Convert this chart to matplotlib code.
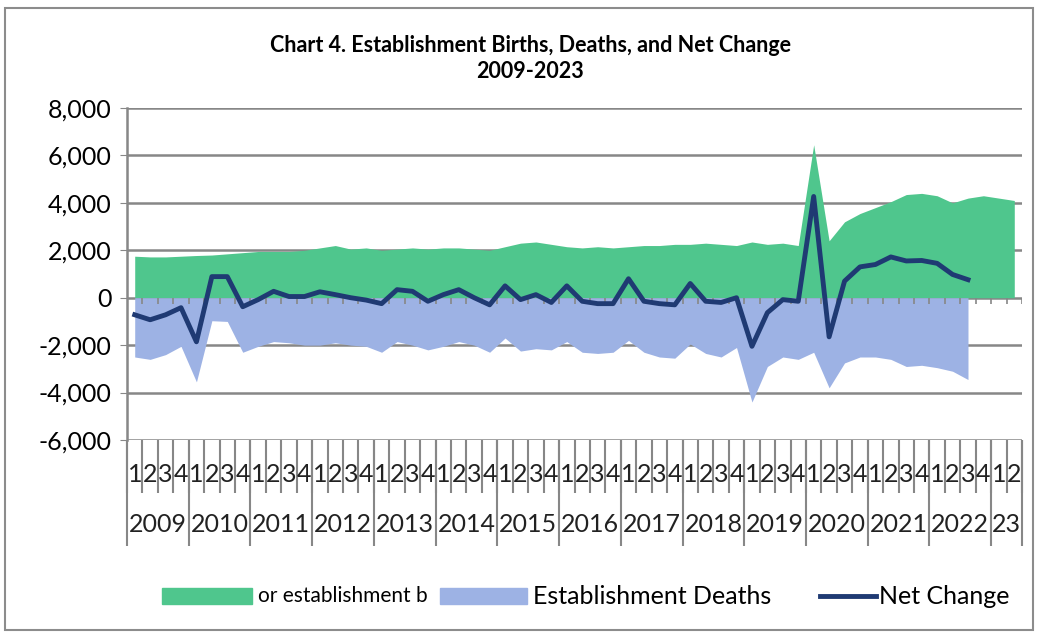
import numpy as np
import matplotlib.pyplot as plt
from matplotlib.patches import Rectangle
from matplotlib.lines import Line2D

plt.rcParams['font.family'] = ['Lato', 'DejaVu Sans']

# quarterly values, 2009 Q1 .. 2023 Q2
years = ['2009', '2010', '2011', '2012', '2013', '2014', '2015', '2016',
         '2017', '2018', '2019', '2020', '2021', '2022', '23']
quarters = ['1', '2', '3', '4'] * 14 + ['1', '2']

births = [1750, 1720, 1720, 1750, 1780, 1800, 1850, 1900,
          1950, 1950, 1950, 2000, 2100, 2200, 2050, 2100,
          2000, 2050, 2100, 2050, 2100, 2100, 2050, 2000,
          2150, 2300, 2350, 2250, 2150, 2100, 2150, 2100,
          2150, 2200, 2200, 2250, 2250, 2300, 2250, 2200,
          2350, 2250, 2300, 2200, 6450, 2400, 3200, 3550,
          3800, 4050, 4350, 4400, 4300, 4000, 4200, 4300,
          4200, 4100]

deaths = [-2500, -2600, -2400, -2050, -3550, -970, -1000, -2300,
          -2050, -1850, -1900, -2000, -2000, -1900, -2000, -2050,
          -2300, -1850, -2000, -2200, -2050, -1850, -2000, -2300,
          -1700, -2250, -2150, -2200, -1850, -2300, -2350, -2300,
          -1800, -2300, -2500, -2550, -1950, -2350, -2500, -2100,
          -4400, -2900, -2500, -2600, -2300, -3800, -2750, -2500,
          -2500, -2600, -2900, -2850, -2950, -3100, -3450]

net = [-720, -930, -720, -420, -1860, 890, 890, -380,
       -80, 270, 50, 50, 250, 130, 0, -100,
       -250, 340, 270, -150, 130, 340, 0, -300,
       500, -80, 130, -200, 500, -150, -250, -250,
       800, -150, -250, -300, 600, -150, -200, 0,
       -2050, -630, -80, -150, 4270, -1650, 700, 1300,
       1400, 1720, 1550, 1570, 1450, 980, 760]

green = '#4FC68D'
blue = '#9DB2E4'
navy = '#1F3A73'
grid = '#878787'
fs = 18

fig = plt.figure(figsize=(10.4, 6.35), dpi=100)
W, H = 1040, 635
ax = fig.add_axes([127 / W, 1 - 440 / H, (1022 - 127) / W, (440 - 108) / H])

x = np.arange(len(births))
ax.fill_between(x, 0, births, color=green, linewidth=0, zorder=2)
ax.fill_between(x[:len(deaths)], deaths, 0, color=blue, linewidth=0, zorder=2)
ax.plot(x[:len(net)], net, color=navy, linewidth=3.5, zorder=4,
        solid_joinstyle='round')

yt = np.arange(-6000, 8001, 2000)
for v in yt:
    ax.axhline(v, color=grid, linewidth=1.8, zorder=1)
ax.set_ylim(-6000, 8000)
ax.set_xlim(-0.5, len(births) - 0.5)
ax.set_yticks(yt)
ax.set_yticklabels([f'{v:,}' for v in yt], fontsize=fs)
ax.tick_params(axis='y', length=5, color=grid, pad=6)
ax.set_xticks([])
for s in ['top', 'right', 'bottom']:
    ax.spines[s].set_visible(False)
ax.spines['left'].set_color(grid)
ax.spines['left'].set_linewidth(1.8)

# small tick marks on the zero line
bounds = np.arange(0, len(births) + 1) - 0.5
ax.vlines(bounds[1:], -260, 0, color=grid, linewidth=1.2, zorder=3)

# category labels below the plot
tr = ax.get_xaxis_transform()
ax.vlines(bounds, -0.16, 0, transform=tr, color=grid, linewidth=1.5,
          clip_on=False)
year_bounds = [-0.5 + 4 * k for k in range(15)] + [len(births) - 0.5]
ax.vlines(year_bounds, -0.318, 0, transform=tr, color=grid, linewidth=1.5,
          clip_on=False)
for i, q in enumerate(quarters):
    ax.text(i, -0.105, q, transform=tr, ha='center', va='center',
            fontsize=fs, color='#222222')
for k, yl in enumerate(years):
    c = (year_bounds[k] + year_bounds[k + 1]) / 2
    ax.text(c, -0.256, yl, transform=tr, ha='center', va='center',
            fontsize=fs, color='#222222')

# title
fig.text(530 / W, 1 - 45 / H, 'Chart 4. Establishment Births, Deaths, and Net Change',
         ha='center', va='center', fontsize=15.5, fontweight='bold')
fig.text(530 / W, 1 - 72 / H, '2009-2023', ha='center', va='center',
         fontsize=15.5, fontweight='bold')

# legend
ly = 1 - 596 / H
fig.patches.append(Rectangle((162 / W, ly - 8 / H), 90 / W, 16 / H,
                             transform=fig.transFigure, color=green))
fig.text(258 / W, ly, 'or establishment b', va='center', fontsize=15)
fig.patches.append(Rectangle((440 / W, ly - 8 / H), 87 / W, 16 / H,
                             transform=fig.transFigure, color=blue))
fig.text(533 / W, ly, 'Establishment Deaths', va='center', fontsize=fs)
fig.lines.append(Line2D([820 / W, 876 / W], [ly, ly], transform=fig.transFigure,
                        color=navy, linewidth=3.5))
fig.text(879 / W, ly, 'Net Change', va='center', fontsize=fs)

# outer border
fig.patches.append(Rectangle((5 / W, 1 - 630 / H), 1028 / W, 622 / H,
                             transform=fig.transFigure, fill=False,
                             edgecolor='#8c8c8c', linewidth=1.5))

fig.savefig('out.png', dpi=100)
